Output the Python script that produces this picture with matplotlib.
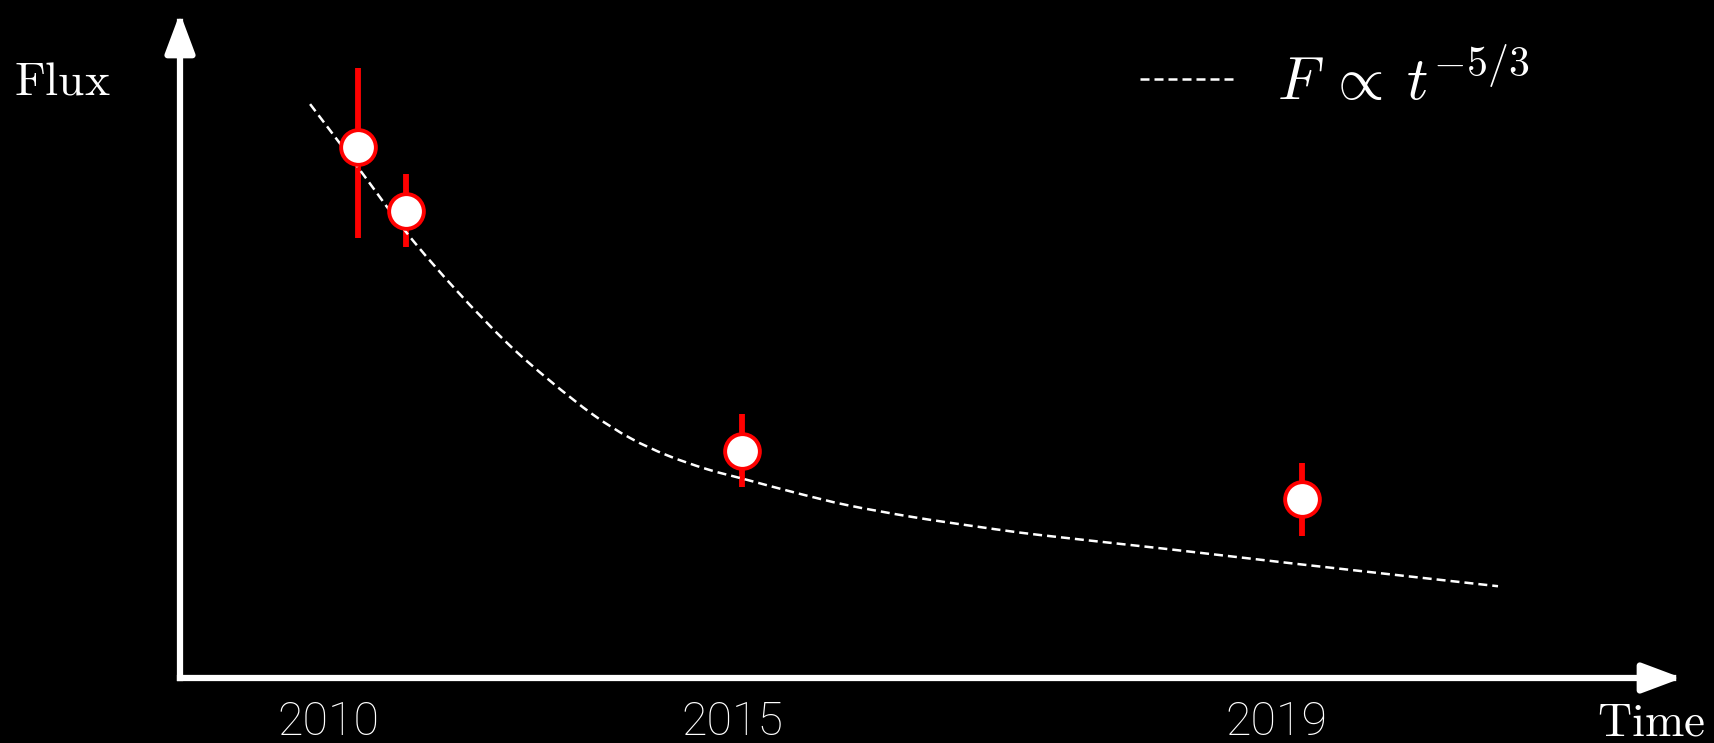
import matplotlib
matplotlib.use("Agg")
import matplotlib.pyplot as plt
from matplotlib.patches import ArrowStyle, PathPatch
from matplotlib.path import Path

plt.rcParams['mathtext.fontset'] = 'cm'

# observed flux, arbitrary units (time on a schematic axis)
obs_t = [1.184, 1.503, 3.744, 7.472]
obs_flux = [7.98, 7.03, 3.42, 2.69]
err_low = [1.37, 0.55, 0.55, 0.55]
err_high = [1.19, 0.55, 0.55, 0.55]

# t^-5/3 decline, traced by hand
model_t = [0.866, 1.178, 1.511, 1.844, 2.177, 2.463, 2.750, 2.996, 3.242,
           3.509, 3.775, 4.108, 4.441, 4.880, 5.326, 5.726, 6.571, 7.457,
           8.775]
model_flux = [8.63, 7.70, 6.69, 5.82, 5.04, 4.47, 3.96, 3.61, 3.35,
              3.14, 2.98, 2.78, 2.60, 2.42, 2.27, 2.15, 1.94, 1.71,
              1.38]

tick_t = [0.99, 3.675, 7.30]
tick_labels = ['2010', '2015', '2019']


def smooth_path(xs, ys):
    # Catmull-Rom through the traced points, as cubic Bezier segments
    pts = list(zip(xs, ys))
    verts = [pts[0]]
    codes = [Path.MOVETO]
    for i in range(len(pts) - 1):
        p0 = pts[i - 1] if i > 0 else pts[i]
        p1, p2 = pts[i], pts[i + 1]
        p3 = pts[i + 2] if i + 2 < len(pts) else pts[i + 1]
        c1 = (p1[0] + (p2[0] - p0[0]) / 6, p1[1] + (p2[1] - p0[1]) / 6)
        c2 = (p2[0] - (p3[0] - p1[0]) / 6, p2[1] - (p3[1] - p1[1]) / 6)
        verts += [c1, c2, p2]
        codes += [Path.CURVE4] * 3
    return Path(verts, codes)


W, H = 1715, 743
fig = plt.figure(figsize=(W / 100, H / 100), dpi=100, facecolor='black')
ax = fig.add_axes([180 / W, 65 / H, 1502 / W, 665 / H])
ax.set_facecolor('black')
ax.set_xlim(0, 10)
ax.set_ylim(0, 10)
for s in ax.spines.values():
    s.set_visible(False)

dash = (0, (3.6, 2.0))
ax.errorbar(obs_t, obs_flux, yerr=[err_low, err_high], fmt='none',
            ecolor='#ff0000', elinewidth=4.2, capsize=0, zorder=1)
ax.add_patch(PathPatch(smooth_path(model_t, model_flux), fill=False,
                       edgecolor='white', lw=1.8, linestyle=dash, zorder=2))
# legend entry for the model curve
ax.plot([], [], color='white', lw=1.8, linestyle=dash,
        label=r'$F \:\propto\: t^{-5/3}$')
ax.plot(obs_t, obs_flux, 'o', ms=25, mfc='white', mec='#ff0000', mew=2.8,
        zorder=3)

# axis arrows
head = ArrowStyle('-|>', head_length=24, head_width=9)
for end in [(1, 0), (0, 1)]:
    ax.annotate('', xy=end, xytext=(0, 0), xycoords='axes fraction',
                textcoords='axes fraction',
                arrowprops=dict(arrowstyle=head, color='white', lw=4.5,
                                shrinkA=0, shrinkB=0, mutation_scale=1,
                                capstyle='projecting'),
                annotation_clip=False)

ax.set_yticks([])
ax.set_xticks(tick_t, tick_labels)
ax.tick_params(axis='x', length=0, pad=16, labelsize=33.5, labelcolor='white')
for lbl in ax.get_xticklabels():
    lbl.set_family('Roboto')
    lbl.set_weight('light')

fig.text(14 / W, 1 - 82 / H, r'$\mathrm{Flux}$', color='white', fontsize=34,
         ha='left', va='center')
fig.text(1705 / W, 1 - 735 / H, r'$\mathrm{Time}$', color='white', fontsize=34,
         ha='right', va='baseline')

leg = ax.legend(loc='center left', bbox_to_anchor=(1140 / W, 1 - 83 / H),
                bbox_transform=fig.transFigure, frameon=False, fontsize=43,
                labelcolor='white', handlelength=1.62, handletextpad=0.67,
                borderpad=0, borderaxespad=0)

fig.savefig('out.png', dpi=100, facecolor='black')
